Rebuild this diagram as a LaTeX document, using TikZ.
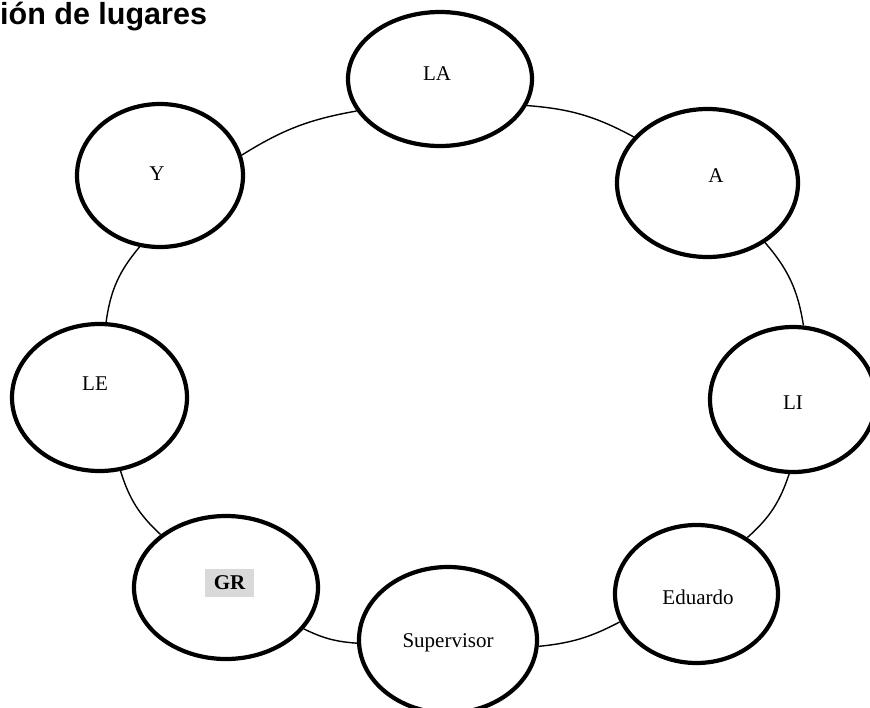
\documentclass[tikz,border=0pt]{standalone}
\usepackage{fontspec}
\setmainfont{Liberation Serif}
\newfontfamily\titlefont{Liberation Sans}
\usetikzlibrary{shapes.geometric}
\definecolor{labelgray}{HTML}{D9D9D9}
\begin{document}
\begin{tikzpicture}[x=1pt,y=-1pt,
  seat/.style={ellipse,draw=black,line width=4.2pt,fill=white,inner sep=0pt},
  seatlabel/.style={font=\fontsize{21}{21}\selectfont,inner sep=0pt,anchor=base},
  ringlink/.style={line width=1.4pt,bend left=#1},
  ringlink/.default=12]
\useasboundingbox (0,0) rectangle (870,707);

% title
\node[anchor=base west,inner sep=0pt,font=\titlefont\bfseries\fontsize{30.5}{30.5}\selectfont]
  (title) at (0,24.5) {ión de lugares};

% places round the table
\node[seat,minimum width=184,minimum height=134] (LA)  at (440,79) {};
\node[seat,minimum width=181,minimum height=148] (A)   at (707.5,183) {};
\node[seat,minimum width=166,minimum height=145] (LI)  at (793,399.5) {};
\node[seat,minimum width=163,minimum height=138] (Ed)  at (696.5,594) {};
\node[seat,minimum width=178,minimum height=146] (Sup) at (448,640) {};
\node[seat,minimum width=184,minimum height=143] (GR)  at (226,587.5) {};
\node[seat,minimum width=175,minimum height=147] (LE)  at (99.5,397.5) {};
\node[seat,minimum width=166,minimum height=143] (Y)   at (160,175.5) {};

% names
\node[seatlabel] (tLA)  at (437,80) {LA};
\node[seatlabel] (tA)   at (716,182) {A};
\node[seatlabel] (tLI)  at (793,409) {LI};
\node[seatlabel] (tEd)  at (698,604) {Eduardo};
\node[seatlabel] (tSup) at (448,647) {Supervisor};
\node[seatlabel] (tLE)  at (95,390) {LE};
\node[seatlabel] (tY)   at (157,180) {Y};
\node[font=\bfseries\fontsize{21}{21}\selectfont,fill=labelgray,inner sep=0pt,
  minimum width=49,minimum height=28] (tGR) at (229.5,583) {GR};

% ring connections, border to border
\draw[ringlink=11] (Y.14.5)   to (LA.201);
\draw[ringlink=12] (LA.-17.6) to (A.148.6);
\draw[ringlink=16] (A.-46.2)  to (LI.82.4);
\draw[ringlink=15] (LI.-93.8) to (Ed.48.9);
\draw[ringlink=11] (Ed.200.5) to (Sup.-4.4);
\draw[ringlink=11] (Sup.182.5) to (GR.-28.6);
\draw[ringlink=15] (GR.141)   to (LE.-74.1);
\draw[ringlink=16] (LE.85.8)  to (Y.-106);
\end{tikzpicture}
\end{document}
